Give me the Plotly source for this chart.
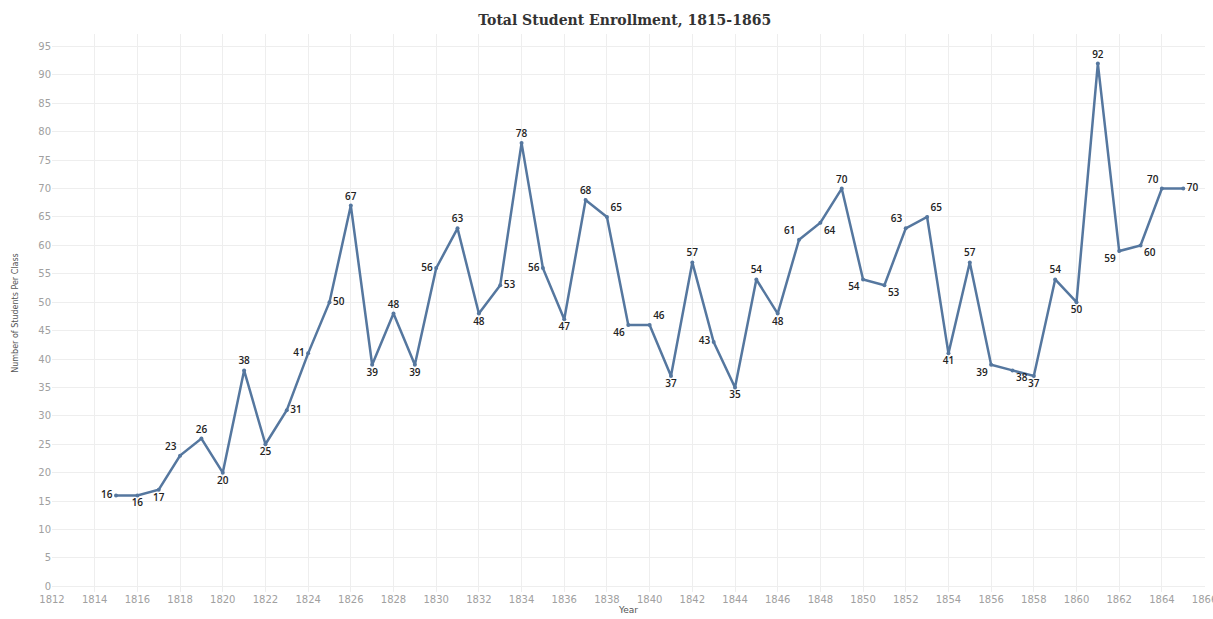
import plotly.graph_objects as go

years = list(range(1815, 1866))
students = [16, 16, 17, 23, 26, 20, 38, 25, 31, 41, 50, 67, 39, 48, 39, 56, 63, 48, 53, 78,
            56, 47, 68, 65, 46, 46, 37, 57, 43, 35, 54, 48, 61, 64, 70, 54, 53, 63, 65, 41,
            57, 39, 38, 37, 54, 50, 92, 59, 60, 70, 70]
label_pos = ["middle left", "bottom center", "bottom center", "top left", "top center",
             "bottom center", "top center", "bottom center", "middle right", "middle left",
             "middle right", "top center", "bottom center", "top center", "bottom center",
             "middle left", "top center", "bottom center", "middle right", "top center",
             "middle left", "bottom center", "top center", "top right", "bottom left",
             "top right", "bottom center", "top center", "middle left", "bottom center",
             "top center", "bottom center", "top left", "bottom right", "top center",
             "bottom left", "bottom right", "top left", "top right", "bottom center",
             "top center", "bottom left", "bottom right", "bottom center", "top center",
             "bottom center", "top center", "bottom left", "bottom right", "top left",
             "middle right"]

fig = go.Figure()
fig.add_trace(
    go.Scatter(
        x=years,
        y=students,
        mode="lines+markers+text",
        text=[str(v) for v in students],
        textposition=label_pos,
        textfont={"family": "Open Sans", "size": 10, "color": "#222222", "weight": 600},
        line={"color": "#55779f", "width": 2.5},
        marker={"color": "#55779f", "size": 4},
        cliponaxis=False,
        showlegend=False,
    )
)

fig.update_layout(
    width=1213,
    height=619,
    paper_bgcolor="white",
    plot_bgcolor="white",
    margin={"l": 52, "r": 8, "t": 34, "b": 27},
    title={
        "text": "<b>Total Student Enrollment, 1815-1865</b>",
        "x": 0.515,
        "xanchor": "center",
        "y": 0.968,
        "yanchor": "middle",
        "font": {"family": "DejaVu Serif", "size": 14, "color": "#333333"},
    },
    xaxis={
        "range": [1812, 1866.02],
        "tick0": 1812,
        "dtick": 2,
        "automargin": False,
        "ticklabeloverflow": "allow",
        "showgrid": True,
        "gridcolor": "#eeeeee",
        "gridwidth": 1,
        "zeroline": False,
        "showline": False,
        "tickfont": {"family": "DejaVu Sans", "size": 10, "color": "#a0a0a0"},
        "title": {"text": "Year", "font": {"family": "DejaVu Sans", "size": 9, "color": "#555555"}, "standoff": 2},
    },
    yaxis={
        "range": [-1, 97.2],
        "tick0": 0,
        "dtick": 5,
        "automargin": False,
        "showgrid": True,
        "gridcolor": "#eeeeee",
        "gridwidth": 1,
        "zeroline": False,
        "showline": False,
        "tickfont": {"family": "DejaVu Sans", "size": 10, "color": "#a0a0a0"},
        "title": {"text": "Number of Students Per Class", "font": {"family": "DejaVu Sans", "size": 8, "color": "#555555"}, "standoff": 18},
    },
)

# the page body has an 8px default margin; drop it so the figure fills the window
fig.write_html(
    "out.html",
    config={"displayModeBar": False},
    post_script="document.body.style.margin='0';",
)
